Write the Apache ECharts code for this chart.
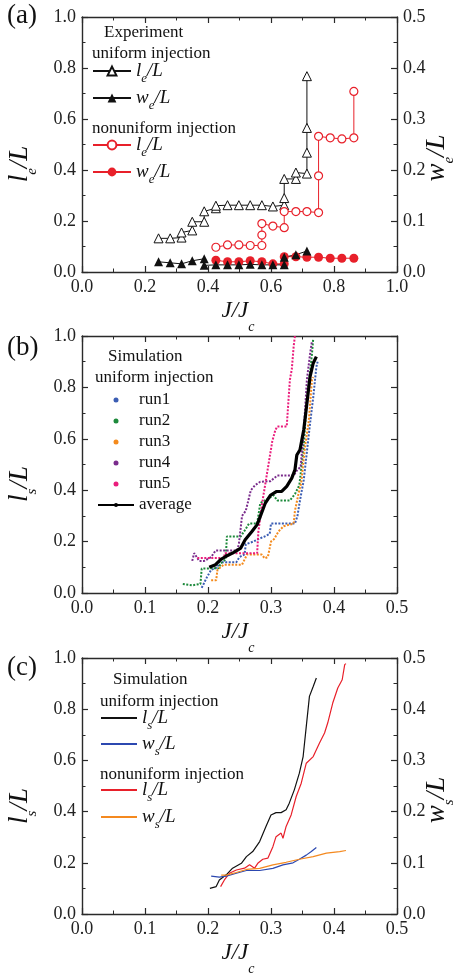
<!DOCTYPE html>
<html>
<head>
<meta charset="utf-8">
<script src="https://cdn.jsdelivr.net/npm/echarts@6/dist/echarts.min.js"></script>
<style>
html,body{margin:0;padding:0;background:#fff;}
#chart{width:453px;height:975px;}
</style>
</head>
<body>
<div id="chart"></div>
<script>
// ---------- Data ----------
// Panel (a): experiment, [J/Jc, value]
const expUniformLe = [[0.243,0.132],[0.28,0.132],[0.316,0.135],[0.316,0.155],[0.35,0.163],[0.35,0.197],[0.388,0.197],[0.388,0.238],[0.425,0.25],[0.425,0.26],[0.462,0.262],[0.498,0.262],[0.534,0.262],[0.571,0.262],[0.606,0.257],[0.642,0.262],[0.642,0.29],[0.642,0.365],[0.679,0.365],[0.679,0.39],[0.714,0.386],[0.714,0.468],[0.714,0.565],[0.714,0.768]];
const expUniformWe = [[0.243,0.020],[0.28,0.018],[0.316,0.016],[0.35,0.022],[0.388,0.026],[0.388,0.013],[0.425,0.014],[0.462,0.014],[0.498,0.014],[0.534,0.015],[0.571,0.014],[0.606,0.014],[0.642,0.014],[0.642,0.029],[0.679,0.034],[0.714,0.041]];
const expNonuniformLe = [[0.425,0.097],[0.462,0.106],[0.498,0.106],[0.534,0.104],[0.571,0.104],[0.571,0.145],[0.571,0.19],[0.606,0.18],[0.642,0.174],[0.642,0.237],[0.679,0.237],[0.714,0.237],[0.751,0.233],[0.751,0.377],[0.751,0.532],[0.788,0.526],[0.825,0.522],[0.863,0.526],[0.863,0.708]];
const expNonuniformWe = [[0.425,0.023],[0.462,0.02],[0.498,0.02],[0.534,0.022],[0.571,0.02],[0.606,0.016],[0.642,0.016],[0.642,0.03],[0.679,0.03],[0.714,0.029],[0.751,0.029],[0.788,0.027],[0.825,0.027],[0.863,0.027]];

// Panel (b): simulation runs, uniform injection
const run1 = [[0.19,0.02],[0.198,0.06],[0.205,0.09],[0.215,0.1],[0.218,0.12],[0.245,0.12],[0.25,0.14],[0.258,0.15],[0.26,0.19],[0.272,0.2],[0.28,0.21],[0.29,0.22],[0.298,0.23],[0.3,0.27],[0.338,0.27],[0.342,0.3],[0.346,0.36],[0.352,0.44],[0.357,0.55],[0.362,0.66],[0.367,0.76],[0.372,0.88],[0.374,0.9]];
const run2 = [[0.16,0.035],[0.175,0.03],[0.188,0.035],[0.19,0.095],[0.205,0.096],[0.217,0.096],[0.22,0.115],[0.228,0.13],[0.23,0.22],[0.252,0.22],[0.26,0.25],[0.265,0.27],[0.278,0.27],[0.283,0.35],[0.294,0.365],[0.304,0.38],[0.31,0.36],[0.33,0.36],[0.338,0.385],[0.345,0.42],[0.352,0.57],[0.357,0.76],[0.362,0.86],[0.365,0.93],[0.367,0.99]];
const run3 = [[0.205,0.05],[0.213,0.05],[0.215,0.09],[0.22,0.1],[0.225,0.11],[0.254,0.11],[0.258,0.13],[0.262,0.15],[0.285,0.15],[0.29,0.135],[0.295,0.14],[0.3,0.2],[0.305,0.21],[0.312,0.24],[0.32,0.26],[0.336,0.27],[0.338,0.32],[0.344,0.39],[0.348,0.43],[0.354,0.57],[0.36,0.67],[0.365,0.83],[0.367,0.84]];
const run4 = [[0.175,0.125],[0.178,0.155],[0.186,0.125],[0.194,0.125],[0.205,0.14],[0.212,0.165],[0.246,0.165],[0.249,0.19],[0.254,0.3],[0.26,0.32],[0.268,0.4],[0.275,0.42],[0.283,0.433],[0.299,0.435],[0.31,0.457],[0.336,0.457],[0.342,0.48],[0.347,0.49],[0.352,0.63],[0.357,0.83],[0.362,0.93],[0.365,0.98]];
const run5 = [[0.183,0.136],[0.225,0.136],[0.227,0.155],[0.278,0.155],[0.28,0.24],[0.286,0.35],[0.294,0.47],[0.302,0.59],[0.307,0.635],[0.31,0.648],[0.325,0.648],[0.328,0.76],[0.33,0.83],[0.333,0.87],[0.336,0.96],[0.338,1.0]];
const runAverage = [[0.202,0.1],[0.212,0.11],[0.22,0.13],[0.228,0.142],[0.241,0.158],[0.252,0.175],[0.259,0.207],[0.27,0.24],[0.278,0.266],[0.283,0.298],[0.291,0.35],[0.299,0.38],[0.309,0.395],[0.317,0.395],[0.325,0.415],[0.333,0.447],[0.338,0.479],[0.341,0.537],[0.346,0.557],[0.352,0.635],[0.357,0.738],[0.362,0.842],[0.367,0.894],[0.372,0.92]];

// Panel (c): simulation averages
const simUniformLs = [[0.203,0.1],[0.213,0.107],[0.218,0.133],[0.229,0.153],[0.239,0.179],[0.253,0.198],[0.261,0.224],[0.271,0.244],[0.282,0.283],[0.292,0.342],[0.3,0.387],[0.308,0.396],[0.316,0.396],[0.324,0.407],[0.329,0.433],[0.337,0.485],[0.345,0.55],[0.351,0.615],[0.356,0.733],[0.361,0.85],[0.367,0.889],[0.372,0.922]];
const simUniformWs = [[0.205,0.074],[0.218,0.072],[0.229,0.074],[0.245,0.0795],[0.261,0.085],[0.282,0.085],[0.303,0.089],[0.319,0.096],[0.335,0.1],[0.345,0.107],[0.356,0.115],[0.364,0.122],[0.372,0.13]];
const simNonuniformLs = [[0.22,0.107],[0.226,0.133],[0.234,0.159],[0.245,0.172],[0.258,0.179],[0.266,0.192],[0.274,0.179],[0.279,0.198],[0.287,0.214],[0.295,0.218],[0.303,0.263],[0.308,0.302],[0.316,0.316],[0.319,0.296],[0.324,0.342],[0.332,0.387],[0.34,0.459],[0.348,0.511],[0.356,0.589],[0.367,0.615],[0.377,0.668],[0.385,0.707],[0.39,0.746],[0.398,0.824],[0.406,0.883],[0.413,0.915],[0.417,0.974],[0.419,0.978]];
const simNonuniformWs = [[0.221,0.076],[0.229,0.076],[0.245,0.081],[0.261,0.087],[0.282,0.089],[0.303,0.096],[0.324,0.101],[0.345,0.107],[0.367,0.112],[0.388,0.119],[0.409,0.122],[0.419,0.124]];

// Axis ranges / ticks
const xRangeA = [0, 1.0], xStepA = 0.2;
const xRangeBC = [0, 0.5], xStepBC = 0.1;
const yLeftRange = [0, 1.0], yLeftStep = 0.2;
const yRightRange = [0, 0.5], yRightStep = 0.1;

// ---------- Styling ----------
const SERIF = "'Liberation Serif', 'DejaVu Serif', serif";
const AX = '#2a2a2a';
const RED = '#e8202a';
const grids = [
  {left: 82, top: 17, width: 315, height: 255},
  {left: 82, top: 336, width: 315, height: 257},
  {left: 82, top: 658, width: 315, height: 256}
];

function axis(gridIndex, position, range, step, showLabels) {
  return {
    type: 'value', gridIndex, position,
    min: range[0], max: range[1], interval: step,
    axisLine: {show: true, onZero: false, lineStyle: {color: AX, width: 1.4}},
    axisTick: {show: true, inside: true, length: 6, lineStyle: {color: AX, width: 1.2}},
    minorTick: {show: true, splitNumber: 2, length: 3.5, lineStyle: {color: AX, width: 1}},
    splitLine: {show: false}, minorSplitLine: {show: false},
    axisLabel: {show: showLabels, margin: 6, color: '#222', fontFamily: SERIF, fontSize: 18,
      formatter: v => v.toFixed(1)}
  };
}

const xAxes = [
  axis(0, 'bottom', xRangeA, xStepA, true),
  axis(0, 'top', xRangeA, xStepA, false),
  axis(1, 'bottom', xRangeBC, xStepBC, true),
  axis(1, 'top', xRangeBC, xStepBC, false),
  axis(2, 'bottom', xRangeBC, xStepBC, true),
  axis(2, 'top', xRangeBC, xStepBC, false)
];
const yAxes = [
  axis(0, 'left', yLeftRange, yLeftStep, true),
  axis(0, 'right', yRightRange, yRightStep, true),
  axis(1, 'left', yLeftRange, yLeftStep, true),
  axis(1, 'right', yLeftRange, yLeftStep, false),
  axis(2, 'left', yLeftRange, yLeftStep, true),
  axis(2, 'right', yRightRange, yRightStep, true)
];

// rich text for italic quantity with subscript
const richLegend = {
  i: {fontFamily: SERIF, fontStyle: 'italic', fontSize: 19, lineHeight: 29, color: '#111'},
  s: {fontFamily: SERIF, fontStyle: 'italic', fontSize: 13, lineHeight: 13, verticalAlign: 'bottom', color: '#111'}
};
const legendLabels = {
  le_u: '{i|l}{s|e}{i|/L}', we_u: '{i|w}{s|e}{i|/L}',
  le_n: '{i|l}{s|e}{i|/L}', we_n: '{i|w}{s|e}{i|/L}',
  ls_u: '{i|l}{s|s}{i|/L}', ws_u: '{i|w}{s|s}{i|/L}',
  ls_n: '{i|l}{s|s}{i|/L}', ws_n: '{i|w}{s|s}{i|/L}'
};
function oneLegend(name, left, centerY, itemWidth, itemHeight) {
  return {
    data: [name], left, top: centerY - 14.5, padding: 0, orient: 'vertical',
    itemWidth, itemHeight, selectedMode: false,
    formatter: n => legendLabels[n],
    textStyle: {rich: richLegend, fontFamily: SERIF, fontSize: 19, color: '#111'}
  };
}

const legends = [
  oneLegend('le_u', 92, 76, 38, 11),
  oneLegend('we_u', 92, 103, 38, 11),
  oneLegend('le_n', 92, 150, 38, 11),
  oneLegend('we_n', 92, 177, 38, 11),
  {
    data: [{name: 'run1', icon: 'circle'}, {name: 'run2', icon: 'circle'}, {name: 'run3', icon: 'circle'},
           {name: 'run4', icon: 'circle'}, {name: 'run5', icon: 'circle'}, 'average'],
    left: 97, top: 389.5, padding: 0, orient: 'vertical', itemGap: 0,
    itemWidth: 36, itemHeight: 5, selectedMode: false,
    textStyle: {fontFamily: SERIF, fontSize: 17, lineHeight: 21, color: '#111'}
  },
  oneLegend('ls_u', 100, 723, 36, 2),
  oneLegend('ws_u', 100, 749, 36, 2),
  oneLegend('ls_n', 100, 795, 36, 2),
  oneLegend('ws_n', 100, 822, 36, 2)
];

function runSeries(name, data, color) {
  return {
    name, type: 'line', xAxisIndex: 2, yAxisIndex: 2, data, color,
    symbol: 'none', lineStyle: {color, width: 2, type: [2, 1.5]}, z: 3
  };
}
function simLine(name, data, color, yIdx) {
  return {
    name, type: 'line', xAxisIndex: 4, yAxisIndex: yIdx, data, color,
    symbol: 'none', lineStyle: {color, width: 1.2}
  };
}

const series = [
  {name: 'le_u', type: 'line', xAxisIndex: 0, yAxisIndex: 0, data: expUniformLe, color: '#111',
   symbol: 'triangle', symbolSize: 9, lineStyle: {color: '#111', width: 1},
   itemStyle: {color: '#fff', borderColor: '#111', borderWidth: 1}, z: 3},
  {name: 'le_n', type: 'line', xAxisIndex: 0, yAxisIndex: 0, data: expNonuniformLe, color: RED,
   symbol: 'circle', symbolSize: 8, lineStyle: {color: RED, width: 1},
   itemStyle: {color: '#fff', borderColor: RED, borderWidth: 1.2}, z: 3},
  {name: 'we_n', type: 'line', xAxisIndex: 0, yAxisIndex: 1, data: expNonuniformWe, color: RED,
   symbol: 'circle', symbolSize: 9, lineStyle: {color: RED, width: 1},
   itemStyle: {color: RED, borderColor: RED, borderWidth: 0}, z: 4},
  {name: 'we_u', type: 'line', xAxisIndex: 0, yAxisIndex: 1, data: expUniformWe, color: '#111',
   symbol: 'triangle', symbolSize: 9, lineStyle: {color: '#111', width: 1},
   itemStyle: {color: '#111', borderColor: '#111', borderWidth: 0}, z: 4},

  runSeries('run1', run1, '#3b5db3'),
  runSeries('run2', run2, '#1d8a3b'),
  runSeries('run3', run3, '#f48a1c'),
  runSeries('run4', run4, '#7a2c8c'),
  runSeries('run5', run5, '#ea1d7c'),
  {name: 'average', type: 'line', xAxisIndex: 2, yAxisIndex: 2, data: runAverage, color: '#000',
   symbol: 'none', lineStyle: {color: '#000', width: 3.2}, z: 5},

  simLine('ls_u', simUniformLs, '#111', 4),
  simLine('ls_n', simNonuniformLs, RED, 4),
  simLine('ws_u', simUniformWs, '#2c48b0', 5),
  simLine('ws_n', simNonuniformWs, '#f4891f', 5)
];

// ---------- Titles / annotations (graphic text) ----------
const richTitle = {
  i: {fontFamily: SERIF, fontStyle: 'italic', fontSize: 27, lineHeight: 39, fill: '#111'},
  s: {fontFamily: SERIF, fontStyle: 'italic', fontSize: 15, lineHeight: 15, verticalAlign: 'bottom', fill: '#111'}
};
const richX = {
  i: {fontFamily: SERIF, fontStyle: 'italic', fontSize: 23, lineHeight: 47, fill: '#111'},
  s: {fontFamily: SERIF, fontStyle: 'italic', fontSize: 14, lineHeight: 14, verticalAlign: 'bottom', fill: '#111'}
};
function vTitle(text, x, y) {
  return {type: 'text', x, y, rotation: Math.PI / 2,
    style: {text, rich: richTitle, align: 'center', verticalAlign: 'middle'}};
}
function xTitle(y) {
  return {type: 'text', x: 238, y,
    style: {text: '{i|J/J}{s|c}', rich: richX, align: 'center', verticalAlign: 'middle'}};
}
function plain(text, x, y, size) {
  return {type: 'text', x, y,
    style: {text, fontFamily: SERIF, fontSize: size, fill: '#111', align: 'left', verticalAlign: 'middle'}};
}

const graphics = [
  plain('(a)', 7, 16, 27), plain('(b)', 7, 348, 27), plain('(c)', 7, 668, 27),
  vTitle('{i|l}{s|e}{i|/L}', 20, 164),
  vTitle('{i|w}{s|e}{i|/L}', 437, 158),
  vTitle('{i|l}{s|s}{i|/L}', 20, 484),
  vTitle('{i|l}{s|s}{i|/L}', 20, 806),
  vTitle('{i|w}{s|s}{i|/L}', 437, 800),
  xTitle(311), xTitle(632), xTitle(953),
  plain('Experiment', 104, 33, 17),
  plain('uniform injection', 92, 54, 17),
  plain('nonuniform injection', 92, 129, 17),
  plain('Simulation', 108, 357, 17),
  plain('uniform injection', 95, 378, 17),
  plain('Simulation', 113, 680, 17),
  plain('uniform injection', 100, 702, 17),
  plain('nonuniform injection', 100, 775, 17)
];

const chart = echarts.init(document.getElementById('chart'), null, {renderer: 'canvas'});
chart.setOption({
  animation: false,
  backgroundColor: '#fff',
  grid: grids,
  xAxis: xAxes,
  yAxis: yAxes,
  legend: legends,
  series,
  graphic: graphics
});
</script>
</body>
</html>
